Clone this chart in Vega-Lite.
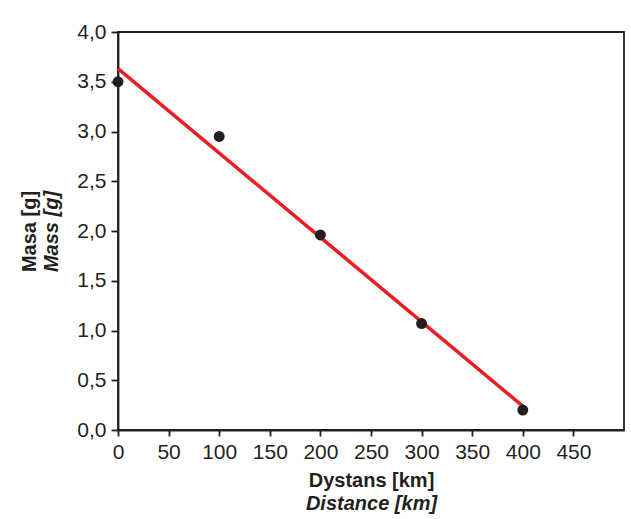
{
  "$schema": "https://vega.github.io/schema/vega-lite/v6.json",
  "autosize": {"type": "none"},
  "padding": {"left": 118, "top": 32, "right": 7, "bottom": 89},
  "width": 506,
  "height": 398,
  "background": "white",
  "config": {
    "font": "Liberation Sans",
    "view": {"stroke": "#231f20", "strokeWidth": 1.8},
    "axis": {
      "grid": false,
      "domainColor": "#231f20",
      "domainWidth": 1.8,
      "tickColor": "#231f20",
      "tickWidth": 1.8,
      "labelColor": "#231f20",
      "titleColor": "#231f20",
      "labelFontSize": 21,
      "titleFontSize": 20,
      "titleFontWeight": "bold"
    }
  },
  "data": {
    "values": [
      {"distance": 0, "mass": 3.5},
      {"distance": 100, "mass": 2.95},
      {"distance": 200, "mass": 1.96},
      {"distance": 300, "mass": 1.07},
      {"distance": 400, "mass": 0.2}
    ]
  },
  "resolve": {"axis": {"x": "independent", "y": "independent"}},
  "layer": [
    {
      "transform": [{"regression": "mass", "on": "distance"}],
      "mark": {"type": "line", "color": "#ec1c24", "strokeWidth": 3.5},
      "encoding": {
        "x": {
          "field": "distance", "type": "quantitative",
          "scale": {"domain": [0, 500], "nice": false, "zero": false},
          "axis": {
            "orient": "bottom",
            "values": [0, 50, 100, 150, 200, 250, 300, 350, 400, 450],
            "tickSize": 6, "labelPadding": 5, "labelFlush": false,
            "title": "Dystans [km]",
            "titleBaseline": "alphabetic", "titleX": 253, "titleY": 56
          }
        },
        "y": {
          "field": "mass", "type": "quantitative",
          "scale": {"domain": [0, 4], "nice": false},
          "axis": {
            "orient": "left",
            "values": [0, 0.5, 1, 1.5, 2, 2.5, 3, 3.5, 4],
            "labelExpr": "replace(format(datum.value, '.1f'), '.', ',')",
            "tickSize": 7, "labelPadding": 5, "labelFlush": false,
            "title": "Masa [g]",
            "titleBaseline": "alphabetic", "titleAngle": -90,
            "titleX": -83, "titleY": 199
          }
        }
      }
    },
    {
      "mark": {"type": "circle", "color": "#231f20", "opacity": 1, "size": 120},
      "encoding": {
        "x": {
          "field": "distance", "type": "quantitative",
          "scale": {"domain": [0, 500], "nice": false, "zero": false},
          "axis": {
            "orient": "bottom", "labels": false, "ticks": false, "domain": false,
            "title": "Distance [km]", "titleFontStyle": "italic",
            "titleBaseline": "alphabetic", "titleX": 253, "titleY": 79
          }
        },
        "y": {
          "field": "mass", "type": "quantitative",
          "scale": {"domain": [0, 4], "nice": false},
          "axis": {
            "orient": "left", "labels": false, "ticks": false, "domain": false,
            "title": "Mass [g]", "titleFontStyle": "italic",
            "titleBaseline": "alphabetic", "titleAngle": -90,
            "titleX": -61, "titleY": 199
          }
        }
      }
    }
  ]
}
